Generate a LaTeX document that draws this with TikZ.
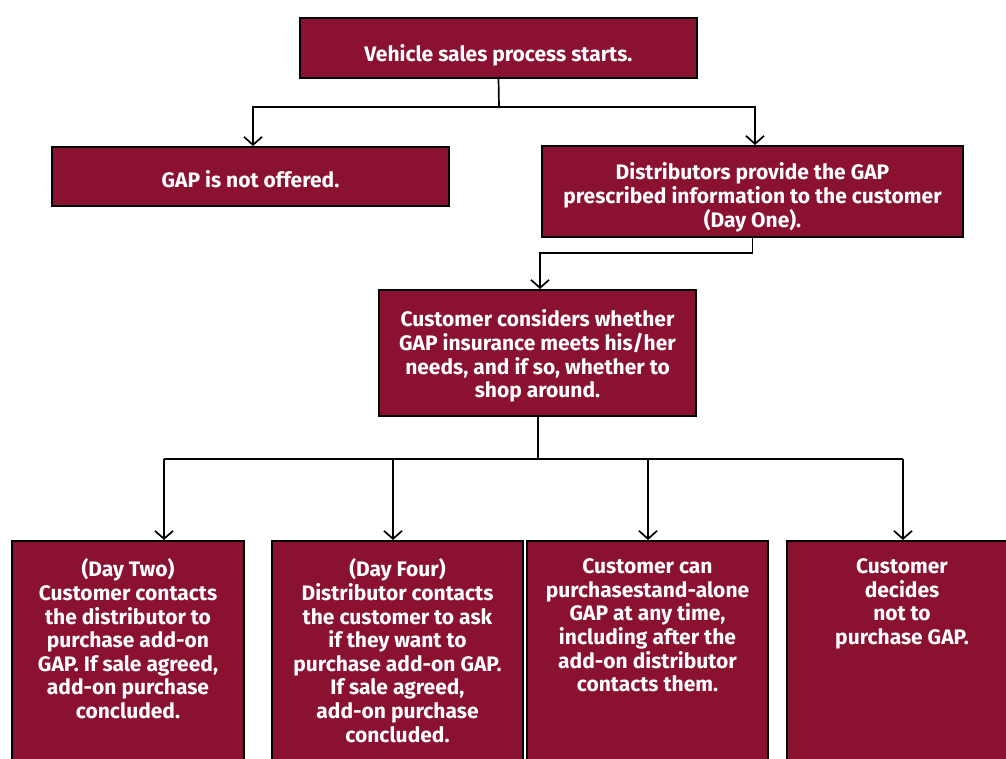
\documentclass[tikz,border=0pt]{standalone}
\usepackage{fontspec}
\setmainfont{Fira Sans}
\usetikzlibrary{arrows.meta}
\definecolor{gapred}{RGB}{139,17,48}
% box text: width, height, top gap
\newcommand{\gaptext}[4]{\parbox[t][#2][t]{#1}{\centering\vspace*{#3}#4}}

\begin{document}
\begin{tikzpicture}[x=1pt,y=-1pt,
  box/.style={draw=black,line width=1.6pt,fill=gapred,text=white,align=center,
    inner sep=0pt,anchor=north,font=\bfseries\fontsize{21}{23.6}\selectfont},
  arr/.style={line width=1.7pt,-{Straight Barb[length=8pt,width=18pt,line width=1.7pt]}},
  link/.style={line width=1.7pt}]
  \useasboundingbox (0,0) rectangle (1006,758);
  \clip (0,0) rectangle (1006,758);
  % upper part
  \node[box] (start) at (498.5,17) {\gaptext{397pt}{60pt}{27pt}{Vehicle sales process starts.}};
  \node[box] (nogap) at (250.5,146) {\gaptext{397pt}{59pt}{24pt}{GAP is not offered.}};
  \node[box] (dist) at (752.5,145)
    {\gaptext{421pt}{91pt}{17pt}{Distributors provide the GAP\\prescribed information to the customer\\(Day One).}};
  \node[box] (cust) at (537.5,289)
    {\gaptext{317pt}{126pt}{20pt}{Customer considers whether\\GAP insurance meets his/her\\needs, and if so, whether to\\shop around.}};
  % lower boxes, text from the top
  \node[box] (dtwo) at (128,540)
    {\gaptext{232pt}{230pt}{18pt}{(Day Two)\\Customer contacts\\the distributor to\\purchase add-on\\GAP. If sale agreed,\\add-on purchase\\concluded.}};
  \node[box] (dfour) at (397.5,540)
    {\gaptext{251pt}{230pt}{18pt}{(Day Four)\\Distributor contacts\\the customer to ask\\if they want to\\purchase add-on GAP.\\If sale agreed,\\add-on purchase\\concluded.}};
  \node[box] (alone) at (647.5,540)
    {\gaptext{241pt}{230pt}{18pt}{Customer can\\purchasestand-alone\\GAP at any time,\\including after the\\add-on distributor\\contacts them.}};
  \node[box] (nobuy) at (902,540)
    {\gaptext{230pt}{230pt}{18pt}{Customer\\decides\\not to\\purchase GAP.}};
  % connectors
  \coordinate (s1) at (499,107);
  \coordinate (s2) at (540,253);
  \coordinate (s3) at (538,459);
  \draw[link] (start.south) -- (s1);
  \draw[arr] (s1) -| (253,146);
  \draw[arr] (s1) -| (755,145);
  \draw[arr] (dist.south) |- (s2) -- (cust.north -| s2);
  \draw[link] (cust.south -| s3) -- (s3);
  \draw[link] (164,459) -- (903,459);
  \foreach \xx/\bb in {164/dtwo,393/dfour,648/alone,903/nobuy}
    \draw[arr] (\xx,459) -- (\bb.north -| \xx,0);
\end{tikzpicture}
\end{document}
